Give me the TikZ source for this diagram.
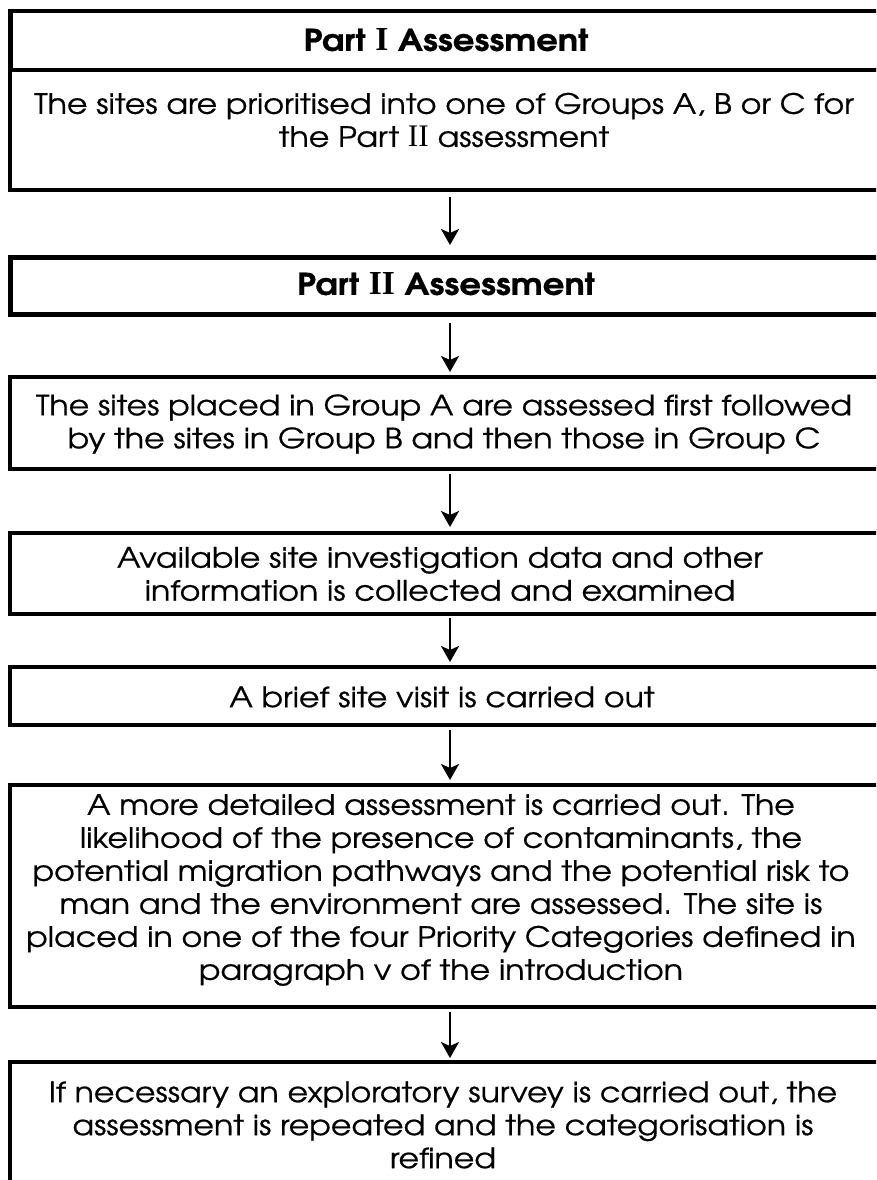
\documentclass[tikz,border=0pt]{standalone}
\usepackage{fontspec}
\setmainfont{texgyreadventor}[Extension=.otf, UprightFont=*-regular, BoldFont=*-bold, FakeStretch=1.13, FakeBold=0.6]
\newfontfamily\numfont[Scale=1.12]{Liberation Serif}
\usetikzlibrary{arrows.meta}
\newcommand\romnum[1]{{\numfont #1}}

\begin{document}
\begin{tikzpicture}[x=1pt,y=-1pt,
  frame/.style={draw=black, line width=3.5pt, minimum width=884pt, inner sep=0pt, anchor=north west},
  headframe/.style={frame, line width=4.5pt},
  txt/.style={align=center, font=\fontsize{28}{33}\selectfont, inner sep=0pt},
  headtxt/.style={align=center, font=\fontsize{30}{33}\selectfont\bfseries, inner sep=0pt},
  flow/.style={-{Stealth[length=16pt,width=18pt,inset=4pt]}, line width=2.5pt}]

\useasboundingbox (0,0) rectangle (876,1180);
\clip (0,0) rectangle (876,1180);
\fill[white] (0,0) rectangle (876,1180);

% boxes
\node[frame, minimum height=120pt] (b1) at (8,68) {};
\node[headframe, minimum height=59pt] (h1) at (8,9) {};
\node[headframe, minimum height=57pt] (h2) at (8,255) {};
\node[frame, minimum height=92pt] (b3) at (8,375) {};
\node[frame, minimum height=81pt] (b4) at (8,531) {};
\node[frame, minimum height=58pt] (b5) at (8,665) {};
\node[frame, minimum height=222pt] (b6) at (8,783) {};
\node[frame, minimum height=160pt] (b7) at (8,1060) {};

% texts
\node[headtxt] (t1) at (446,40) {Part \romnum{I} Assessment};
\node[txt] (t2) at (444,120) {The sites are prioritised into one of Groups A, B or C for\\ the Part \romnum{II} assessment};
\node[headtxt] (t3) at (446,284) {Part \romnum{II} Assessment};
\node[txt] (t4) at (444,424) {The sites placed in Group A are assessed first followed\\ by the sites in Group B and then those in Group C};
\node[txt] (t5) at (440,574) {Available site investigation data and other\\ information is collected and examined};
\node[txt] (t6) at (442,697) {A brief site visit is carried out};
\node[txt] (t7) at (441,890) {A more detailed assessment is carried out. The\\ likelihood of the presence of contaminants, the\\ potential migration pathways and the potential risk to\\ man and the environment are assessed. The site is\\ placed in one of the four Priority Categories defined in\\ paragraph v of the introduction};
\node[txt] (t8) at (443,1125) {If necessary an exploratory survey is carried out, the\\ assessment is repeated and the categorisation is\\ refined};

% connectors
\draw[flow, shorten <=5pt, shorten >=10pt] (b1.south -| 450,0) -- (h2.north -| 450,0);
\draw[flow, shorten <=6pt, shorten >=3pt] (h2.south -| 450,0) -- (b3.north -| 450,0);
\draw[flow, shorten <=3pt, shorten >=4pt] (b3.south -| 450,0) -- (b4.north -| 450,0);
\draw[flow, shorten <=2pt, shorten >=3pt] (b4.south -| 450,0) -- (b5.north -| 450,0);
\draw[flow, shorten <=3pt, shorten >=3pt] (b5.south -| 450,0) -- (b6.north -| 450,0);
\draw[flow, shorten <=3pt, shorten >=2pt] (b6.south -| 450,0) -- (b7.north -| 450,0);
\end{tikzpicture}
\end{document}
